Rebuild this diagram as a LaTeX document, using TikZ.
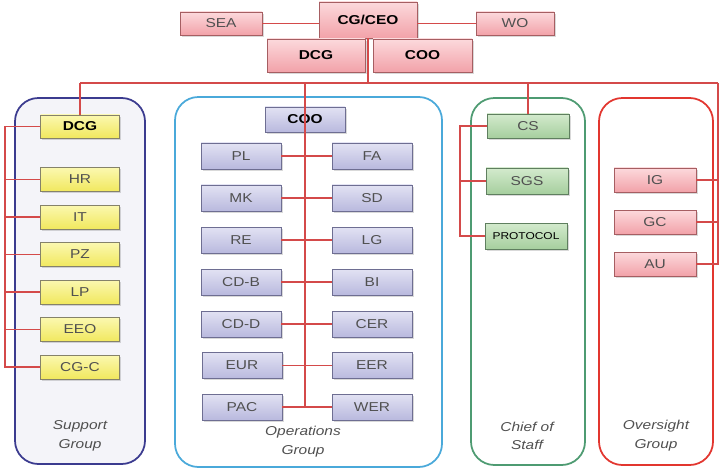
\documentclass[tikz,border=0pt]{standalone}
\usepackage{fontspec}
\setmainfont{Liberation Sans}[FakeStretch=1.2]
\usetikzlibrary{shadows}
\definecolor{pinktop}{HTML}{FCD9DC}
\definecolor{pinkbot}{HTML}{F2A2A9}
\definecolor{pinkedge}{HTML}{A65E62}
\definecolor{yeltop}{HTML}{FBF8B0}
\definecolor{yelbot}{HTML}{F1E85E}
\definecolor{yeledge}{HTML}{85826A}
\definecolor{purtop}{HTML}{E2E2F3}
\definecolor{purbot}{HTML}{B9B9DE}
\definecolor{puredge}{HTML}{6E6E92}
\definecolor{grntop}{HTML}{D3EACD}
\definecolor{grnbot}{HTML}{A6CF9E}
\definecolor{grnedge}{HTML}{5F7F5F}
\definecolor{linkred}{HTML}{D44A4A}
\definecolor{supblue}{HTML}{3B3B8F}
\definecolor{supfill}{HTML}{F4F4F9}
\definecolor{opsblue}{HTML}{4AA9DA}
\definecolor{cosgreen}{HTML}{4E9B72}
\definecolor{ovred}{HTML}{E2362F}
\definecolor{txtgray}{HTML}{505050}

\begin{document}
\begin{tikzpicture}[x=0.3mm,y=-0.3mm,
	unit/.style={draw=#1,line width=0.5pt,minimum width=23.7mm,minimum height=7.2mm,inner sep=1pt,
		font=\fontsize{11}{13}\selectfont,text=txtgray,
		drop shadow={opacity=0.3,shadow xshift=0.5mm,shadow yshift=-0.5mm}},
	redunit/.style={unit=pinkedge,top color=pinktop,bottom color=pinkbot},
	yelunit/.style={unit=yeledge,top color=yeltop,bottom color=yelbot},
	purunit/.style={unit=puredge,top color=purtop,bottom color=purbot,minimum width=24mm,minimum height=7.8mm},
	grnunit/.style={unit=grnedge,top color=grntop,bottom color=grnbot,minimum width=24.6mm,minimum height=7.8mm},
	bold/.style={font=\fontsize{11}{13}\selectfont\bfseries,text=black},
	link/.style={draw=linkred,line width=1.4pt},
	grp/.style={rounded corners=7mm,line width=1.5pt},
	grplabel/.style={font=\fontsize{11}{16}\selectfont\itshape,text=txtgray,align=center}]
	\useasboundingbox (0,0) rectangle (721,469);
	\draw[grp,draw=supblue,fill=supfill] (15,98) rectangle (145,464);
	\draw[grp,draw=opsblue] (175,97) rectangle (442,467);
	\draw[grp,draw=cosgreen] (471,98) rectangle (585,465);
	\draw[grp,draw=ovred] (599,98) rectangle (713,465);
	\node[redunit,minimum width=24.6mm,minimum height=6.9mm] (SEA) at (221,23.5) {SEA};
	\node[redunit,bold,minimum width=29.4mm,minimum height=10.8mm] (CEO) at (368,20) {CG/CEO};
	\node[redunit,minimum width=23.4mm,minimum height=6.9mm] (WO) at (515,23.5) {WO};
	\node[redunit,bold,minimum width=29.4mm,minimum height=9.9mm] (DCG) at (316,55.5) {DCG};
	\node[redunit,bold,minimum width=29.7mm,minimum height=9.9mm] (COO) at (422.5,55.5) {COO};
	\node[yelunit,bold,minimum height=6.9mm] (sDCG) at (80,126.5) {DCG};
	\node[yelunit] (HR) at (80,179.5) {HR};
	\node[yelunit] (IT) at (80,217) {IT};
	\node[yelunit] (PZ) at (80,254.5) {PZ};
	\node[yelunit] (LP) at (80,292) {LP};
	\node[yelunit] (EEO) at (80,329.5) {EEO};
	\node[yelunit] (CGC) at (80,367) {CG-C};
	\node[purunit,bold,minimum height=7.5mm] (oCOO) at (305,119.5) {COO};
	\node[purunit] (PL) at (241,156) {PL};
	\node[purunit] (FA) at (372,156) {FA};
	\node[purunit] (MK) at (241,198) {MK};
	\node[purunit] (SD) at (372,198) {SD};
	\node[purunit] (RE) at (241,240) {RE};
	\node[purunit] (LG) at (372,240) {LG};
	\node[purunit] (CDB) at (241,282) {CD-B};
	\node[purunit] (BI) at (372,282) {BI};
	\node[purunit] (CDD) at (241,324) {CD-D};
	\node[purunit] (CER) at (372,324) {CER};
	\node[purunit] (EUR) at (242,365.5) {EUR};
	\node[purunit] (EER) at (372,365.5) {EER};
	\node[purunit] (PAC) at (242,407) {PAC};
	\node[purunit] (WER) at (372,407) {WER};
	\node[grnunit,minimum height=7.2mm] (CS) at (528,126) {CS};
	\node[grnunit] (SGS) at (527,181) {SGS};
	\node[grnunit,font=\fontsize{8.5}{10}\selectfont,text=black] (PROT) at (526,236) {PROTOCOL};
	\node[redunit,minimum width=24.6mm] (IG) at (655,180) {IG};
	\node[redunit,minimum width=24.6mm] (GC) at (655,222) {GC};
	\node[redunit,minimum width=24.6mm] (AU) at (655,264) {AU};
	\node[grplabel] (supLab) at (80,436) {Support\\Group};
	\node[grplabel] (opsLab) at (303,442) {Operations\\Group};
	\node[grplabel] (cosLab) at (527,436) {Chief of\\Staff};
	\node[grplabel] (ovLab) at (656,436) {Oversight\\Group};
	\coordinate (busL) at (80,83);
	\coordinate (busR) at (718,83);
	\coordinate (supSpine) at (5,126.5);
	\coordinate (cosSpine) at (460,126);
	\draw[link] (busL) -- (busR);
	\draw[link] (SEA.east) -- (SEA.east -| CEO.west);
	\draw[link] (WO.west) -- (WO.west -| CEO.east);
	\draw[link] (CEO.south) -- (CEO.south |- busL);
	\draw[link] (busL) -- (sDCG.north);
	\draw[link] (sDCG.west) -- (supSpine) |- (CGC.west);
	\draw[link] (supSpine |- HR) -- (HR.west);
	\draw[link] (supSpine |- IT) -- (IT.west);
	\draw[link] (supSpine |- PZ) -- (PZ.west);
	\draw[link] (supSpine |- LP) -- (LP.west);
	\draw[link] (supSpine |- EEO) -- (EEO.west);
	\draw[link] (oCOO.north |- busL) -- (oCOO.center |- PAC);
	\draw[link] (PL.east) -- (FA.west);
	\draw[link] (MK.east) -- (SD.west);
	\draw[link] (RE.east) -- (LG.west);
	\draw[link] (CDB.east) -- (BI.west);
	\draw[link] (CDD.east) -- (CER.west);
	\draw[link] (EUR.east) -- (EER.west);
	\draw[link] (PAC.east) -- (WER.west);
	\draw[link] (CS.north |- busL) -- (CS.north);
	\draw[link] (CS.west) -- (cosSpine) |- (PROT.west);
	\draw[link] (cosSpine |- SGS) -- (SGS.west);
	\draw[link] (busR) |- (AU.east);
	\draw[link] (IG.east) -- (IG.east -| busR);
	\draw[link] (GC.east) -- (GC.east -| busR);
\end{tikzpicture}
\end{document}
